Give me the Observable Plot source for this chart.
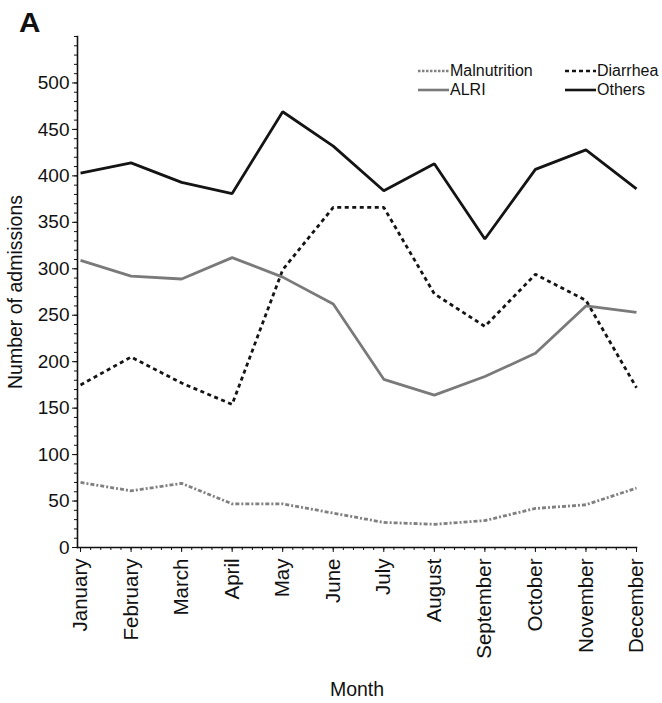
<!DOCTYPE html>
<html>
<head>
<meta charset="utf-8">
<script src="https://cdn.jsdelivr.net/npm/d3@7"></script>
<script src="https://cdn.jsdelivr.net/npm/@observablehq/plot@0.6"></script>
<style>
  html, body { margin: 0; padding: 0; background: #fff; }
  #wrap { position: relative; width: 662px; height: 703px; font-family: "Liberation Sans", Arial, sans-serif; }
  #panel { position: absolute; left: 19px; top: 8px; font-size: 27px; font-weight: bold; color: #111; transform: scaleX(1.1); transform-origin: left top; }
  #legend { position: absolute; left: 0; top: 0; font-size: 16px; color: #111; }
  .item { position: absolute; display: flex; align-items: center; white-space: nowrap; }
  .item svg { margin-right: 1px; }
</style>
</head>
<body>
<div id="wrap">
  <div id="chart"></div>
  <div id="panel">A</div>
  <div id="legend"></div>
</div>
<script>
const months = ["January","February","March","April","May","June","July","August","September","October","November","December"];
const malnutrition = [70, 61, 69, 47, 47, 37, 27, 25, 29, 42, 46, 64];
const alri        = [309, 292, 289, 312, 291, 262, 181, 164, 184, 209, 260, 253];
const diarrhea    = [175, 205, 177, 154, 299, 366, 366, 273, 238, 294, 266, 172];
const others      = [403, 414, 393, 381, 469, 432, 384, 413, 332, 407, 428, 386];
const yMajorTicks = [0, 50, 100, 150, 200, 250, 300, 350, 400, 450, 500];

const seriesStyles = [
  {name: "Malnutrition", values: malnutrition, stroke: "#808080", dash: "4,2,2,2"},
  {name: "Diarrhea", values: diarrhea, stroke: "#141414", dash: "4,3.5"},
  {name: "ALRI", values: alri, stroke: "#7a7a7a", dash: null},
  {name: "Others", values: others, stroke: "#141414", dash: null}
];

const monthIdx = d3.range(months.length);
const lineMarks = seriesStyles.map(s =>
  Plot.line(monthIdx.map(i => ({i, v: s.values[i]})), {
    x: "i", y: "v", stroke: s.stroke, strokeWidth: 2.8,
    strokeDasharray: s.dash, strokeLinejoin: "miter", strokeLinecap: "butt"
  })
);

const chart = Plot.plot({
  width: 662,
  height: 703,
  marginLeft: 77,
  marginRight: 26,
  marginTop: 36,
  marginBottom: 156,
  style: {fontFamily: "Liberation Sans, Arial, sans-serif", color: "#111", background: "#fff"},
  x: {type: "linear", domain: [-0.06, 11]},
  y: {domain: [0, 550]},
  marks: [
    Plot.axisY({ticks: d3.range(0, 551, 10), tickSize: 3, tickFormat: () => "", label: null, strokeWidth: 1}),
    Plot.axisY({ticks: yMajorTicks, tickSize: 5, tickPadding: 3, fontSize: 19, label: "Number of admissions",
      labelAnchor: "center", labelArrow: "none", labelOffset: 69, strokeWidth: 1}),
    Plot.axisX({ticks: d3.range(0, 11.001, 0.2), tickSize: 3, tickFormat: () => "", label: null, strokeWidth: 1}),
    Plot.axisX({ticks: monthIdx, tickSize: 5, tickPadding: 6, tickRotate: -90, fontSize: 20.5,
      tickFormat: i => months[i], label: "Month", labelAnchor: "center", labelArrow: "none", labelOffset: 148, strokeWidth: 1}),
    Plot.frame({anchor: "left", stroke: "#111", strokeWidth: 1.6}),
    Plot.frame({anchor: "bottom", stroke: "#111", strokeWidth: 1.6}),
    ...lineMarks
  ]
});
chart.querySelectorAll("text").forEach(t => { if (t.textContent === "Number of admissions" || t.textContent === "Month") t.setAttribute("font-size", "19.5"); });
document.getElementById("chart").appendChild(chart);

// Legend (2x2 grid inside plot area)
const legendPos = {
  "Malnutrition": {left: 418, top: 71},
  "Diarrhea": {left: 565, top: 71},
  "ALRI": {left: 418, top: 90},
  "Others": {left: 565, top: 90}
};
const legend = document.getElementById("legend");
seriesStyles.forEach(s => {
  const p = legendPos[s.name];
  const div = document.createElement("div");
  div.className = "item";
  div.style.left = p.left + "px";
  div.style.top = (p.top - 10) + "px";
  div.style.height = "20px";
  div.innerHTML = `<svg width="31" height="6"><line x1="0" x2="31" y1="3" y2="3" stroke="${s.stroke}" stroke-width="2.6" ${s.dash ? `stroke-dasharray="${s.name === "Malnutrition" ? "2.5,1.5" : "4,3"}"` : ""}/></svg><span>${s.name}</span>`;
  legend.appendChild(div);
});
</script>
</body>
</html>
